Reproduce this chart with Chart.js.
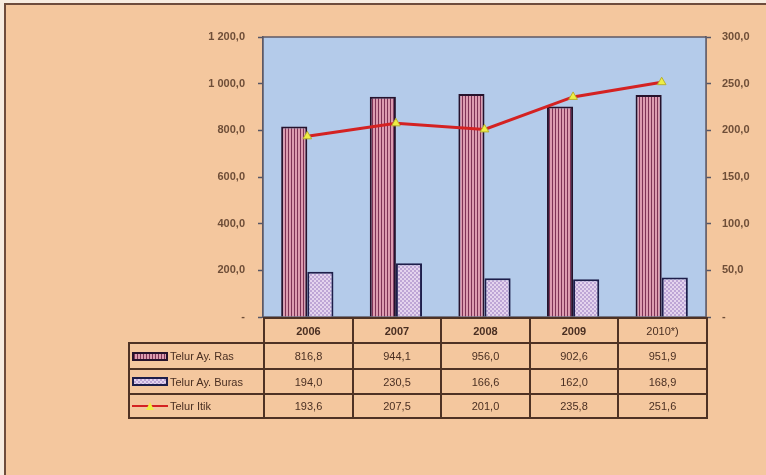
<!DOCTYPE html>
<html>
<head>
<meta charset="utf-8">
<script src="https://cdn.jsdelivr.net/npm/chart.js@4"></script>
<style>
body{margin:0;background:#f7ece0;font-family:"Liberation Sans",Arial,sans-serif;overflow:hidden;}
#frame{position:absolute;left:4px;top:3px;width:800px;height:500px;background:#f4c79e;border-left:2px solid #6e4c3c;border-top:2px solid #6e4c3c;}
#wrap{position:absolute;left:0;top:0;width:766px;height:475px;}
#tbl{position:absolute;left:0;top:0;width:766px;height:475px;pointer-events:none;}
.cell{position:absolute;box-sizing:border-box;border:2px solid #4e3224;font-size:11px;color:#4a2f22;display:flex;align-items:center;justify-content:center;}
.leg{justify-content:flex-start;padding-left:2px;}
.sw{width:36px;height:9px;box-sizing:border-box;margin-right:2px;flex:none;position:relative;}
</style>
</head>
<body>
<div id="frame"></div>
<div id="wrap"><canvas id="c" width="766" height="475"></canvas></div>
<div id="tbl"></div>
<script>
// data
const years = ['2006', '2007', '2008', '2009', '2010*)'];
const telurRas = [816.8, 944.1, 956.0, 902.6, 951.9];
const telurBuras = [194.0, 230.5, 166.6, 162.0, 168.9];
const telurItik = [193.6, 207.5, 201.0, 235.8, 251.6];
const seriesNames = ['Telur Ay. Ras', 'Telur Ay. Buras', 'Telur Itik'];

function fmt(v) {
    if (v === 0) return '-';
    const parts = v.toFixed(1).split('.');
    return parts[0].replace(/\B(?=(\d{3})+(?!\d))/g, ' ') + ',' + parts[1];
}

// bar fill patterns
function stripes() {
    const p = document.createElement('canvas');
    p.width = 3; p.height = 4;
    const g = p.getContext('2d');
    g.fillStyle = '#dc9cb0'; g.fillRect(0, 0, 3, 4);
    g.fillStyle = '#7e3356'; g.fillRect(0, 0, 1, 4);
    return g.createPattern(p, 'repeat');
}
function checks() {
    const p = document.createElement('canvas');
    p.width = 4; p.height = 4;
    const g = p.getContext('2d');
    g.fillStyle = '#e4d4ee'; g.fillRect(0, 0, 4, 4);
    g.fillStyle = '#bea6d6'; g.fillRect(0, 0, 2, 2); g.fillRect(2, 2, 2, 2);
    return g.createPattern(p, 'repeat');
}

const ctx = document.getElementById('c').getContext('2d');

const plotBg = {
    id: 'plotBg',
    beforeDatasetsDraw(chart) {
        const a = chart.chartArea, c = chart.ctx;
        c.save();
        c.fillStyle = '#b4cbea';
        c.fillRect(a.left, a.top, a.right - a.left, a.bottom - a.top);
        c.strokeStyle = '#5e5a66';
        c.lineWidth = 1.5;
        c.strokeRect(a.left, a.top, a.right - a.left, a.bottom - a.top);
        c.restore();
    }
};

const tickColor = '#6e4e38';
const tickFont = { family: 'Liberation Sans', size: 11, weight: 'bold' };

const chart = new Chart(ctx, {
    type: 'bar',
    data: {
        labels: years,
        datasets: [{
            label: seriesNames[0],
            data: telurRas,
            backgroundColor: stripes(),
            borderColor: '#26122c',
            borderWidth: 2,
            yAxisID: 'y',
            order: 1
        }, {
            label: seriesNames[1],
            data: telurBuras,
            backgroundColor: checks(),
            borderColor: '#1e1e4a',
            borderWidth: 2,
            yAxisID: 'y',
            order: 1
        }, {
            type: 'line',
            label: seriesNames[2],
            data: telurItik,
            borderColor: '#d42222',
            borderWidth: 3,
            pointStyle: 'triangle',
            pointRadius: 5,
            pointBackgroundColor: '#eeee44',
            pointBorderColor: '#b8b030',
            pointBorderWidth: 1,
            tension: 0,
            yAxisID: 'y1',
            order: 0
        }]
    },
    options: {
        responsive: false,
        animation: false,
        layout: { padding: { left: 0, right: 0, top: 37, bottom: 158 } },
        plugins: { legend: { display: false }, tooltip: { enabled: false } },
        datasets: { bar: { categoryPercentage: 0.59, barPercentage: 1.0 } },
        scales: {
            x: { display: false },
            y: {
                position: 'left',
                min: 0, max: 1200,
                ticks: { stepSize: 200, color: tickColor, font: tickFont, padding: 13, callback: v => fmt(v) },
                grid: { drawOnChartArea: false, tickLength: 5, color: '#555566', tickWidth: 1.5 },
                border: { color: '#555566', width: 1.5 },
                afterFit(s) { s.width = 263; }
            },
            y1: {
                position: 'right',
                min: 0, max: 300,
                ticks: { stepSize: 50, color: tickColor, font: tickFont, padding: 11, callback: v => fmt(v) },
                grid: { drawOnChartArea: false, tickLength: 5, color: '#555566', tickWidth: 1.5 },
                border: { color: '#555566', width: 1.5 },
                afterFit(s) { s.width = 60; }
            }
        }
    },
    plugins: [plotBg]
});

// data table under the plot, built from the same arrays
(function buildTable() {
    const a = chart.chartArea;
    const tbl = document.getElementById('tbl');
    const colW = (a.right - a.left) / years.length;
    const rowsY = [a.bottom, a.bottom + 25, a.bottom + 51, a.bottom + 76, a.bottom + 100];
    const legLeft = 128;

    function cell(x0, y0, x1, y1, cls) {
        const d = document.createElement('div');
        d.className = 'cell' + (cls ? ' ' + cls : '');
        d.style.left = Math.round(x0) + 'px';
        d.style.top = Math.round(y0) + 'px';
        d.style.width = (Math.round(x1) - Math.round(x0) + 2) + 'px';
        d.style.height = (Math.round(y1) - Math.round(y0) + 2) + 'px';
        tbl.appendChild(d);
        return d;
    }

    years.forEach((y, i) => {
        const c = cell(a.left + i * colW, rowsY[0], a.left + (i + 1) * colW, rowsY[1]);
        c.textContent = y;
        if (i < 4) c.style.fontWeight = 'bold';
    });

    const rows = [telurRas, telurBuras, telurItik];
    rows.forEach((vals, r) => {
        const lc = cell(legLeft, rowsY[r + 1], a.left, rowsY[r + 2], 'leg');
        const sw = document.createElement('div');
        sw.className = 'sw';
        if (r === 0) {
            sw.style.border = '2px solid #26122c';
            sw.style.background = 'repeating-linear-gradient(90deg,#7e3356 0 1px,#dc9cb0 1px 3px)';
        } else if (r === 1) {
            sw.style.border = '2px solid #1e1e4a';
            sw.style.background = 'repeating-conic-gradient(#bea6d6 0 25%,#e4d4ee 0 50%) 0 0/4px 4px';
        } else {
            sw.style.height = '10px';
            sw.innerHTML = '<div style="position:absolute;left:0;right:0;top:4px;height:2px;background:#d42222"></div>' +
                '<div style="position:absolute;left:14px;top:1px;width:8px;height:8px;background:#eeee44;clip-path:polygon(50% 0,100% 100%,0 100%)"></div>';
        }
        lc.appendChild(sw);
        const t = document.createElement('span');
        t.textContent = seriesNames[r];
        lc.appendChild(t);
        vals.forEach((v, i) => {
            const c = cell(a.left + i * colW, rowsY[r + 1], a.left + (i + 1) * colW, rowsY[r + 2]);
            c.textContent = v.toFixed(1).replace('.', ',');
        });
    });
})();
</script>
</body>
</html>
